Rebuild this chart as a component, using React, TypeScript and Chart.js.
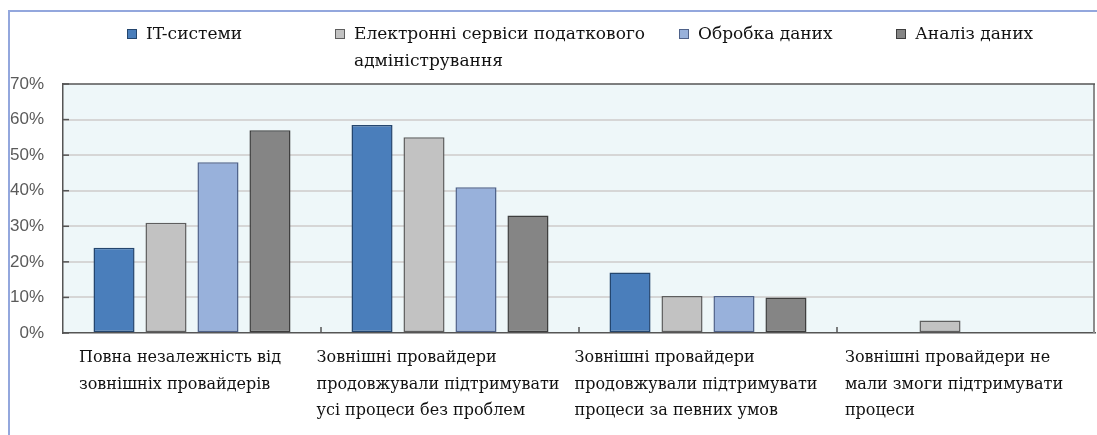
import React, { useEffect, useRef } from "react";
import { Chart, registerables } from "chart.js";

Chart.register(...registerables);

const categories: string[][] = [
  ["Повна незалежність від", "зовнішніх провайдерів"],
  ["Зовнішні провайдери", "продовжували підтримувати", "усі процеси без проблем"],
  ["Зовнішні провайдери", "продовжували підтримувати", "процеси за певних умов"],
  ["Зовнішні провайдери не", "мали змоги підтримувати", "процеси"],
];

const seriesNames: string[][] = [
  ["IT-системи"],
  ["Електронні сервіси податкового", "адміністрування"],
  ["Обробка даних"],
  ["Аналіз даних"],
];

const itSystems = [24, 58.5, 17, null];
const eServices = [31, 55, 10.4, 3.5];
const dataProcessing = [48, 41, 10.4, null];
const dataAnalysis = [57, 33, 10, null];

const yMin = 0;
const yMax = 70;
const yStep = 10;

const fills = ["#4A7EBB", "#C2C2C2", "#98B1DB", "#858585"];
const borders = ["#24466E", "#5E5E5E", "#4F628A", "#3E3E3E"];
const legendX = [127, 335, 679, 896];

const SERIF = '"DejaVu Serif", "Liberation Serif", serif';

const decorPlugin = {
  id: "decor",
  beforeDraw(chart: any) {
    const { ctx, chartArea: a, width, height } = chart;
    ctx.save();
    ctx.fillStyle = "#ffffff";
    ctx.fillRect(0, 0, width, height);
    ctx.fillStyle = "#EEF7F9";
    ctx.fillRect(a.left, a.top, a.right - a.left, a.bottom - a.top);
    ctx.restore();
  },
  afterDraw(chart: any) {
    const { ctx, chartArea: a, width, height } = chart;
    const xs = chart.scales.x;
    ctx.save();
    // right border of plot
    ctx.strokeStyle = "#8C8C8C";
    ctx.lineWidth = 2;
    ctx.beginPath();
    ctx.moveTo(a.right - 1, a.top);
    ctx.lineTo(a.right - 1, a.bottom);
    ctx.stroke();
    // top border
    ctx.strokeStyle = "#555555";
    ctx.lineWidth = 1.5;
    ctx.beginPath();
    ctx.moveTo(a.left, a.top);
    ctx.lineTo(a.right, a.top);
    ctx.stroke();
    // y ticks inward
    const ys = chart.scales.y;
    ctx.strokeStyle = "#555555";
    ctx.lineWidth = 1.5;
    for (let v = yMin; v <= yMax; v += yStep) {
      const py = ys.getPixelForValue(v);
      ctx.beginPath();
      ctx.moveTo(a.left, py);
      ctx.lineTo(a.left + 6, py);
      ctx.stroke();
    }
    // category boundary ticks inward
    for (let i = 1; i < categories.length; i++) {
      const px = (xs.getPixelForValue(i - 1) + xs.getPixelForValue(i)) / 2;
      ctx.beginPath();
      ctx.moveTo(px, a.bottom);
      ctx.lineTo(px, a.bottom - 6);
      ctx.stroke();
    }
    // outer frame
    ctx.strokeStyle = "#93A7DD";
    ctx.lineWidth = 2;
    ctx.beginPath();
    ctx.moveTo(9, height);
    ctx.lineTo(9, 11);
    ctx.lineTo(width, 11);
    ctx.stroke();

    // x labels: blocks near category centre, lines left aligned
    ctx.font = "16px " + SERIF;
    ctx.fillStyle = "#111111";
    ctx.textBaseline = "middle";
    ctx.textAlign = "left";
    categories.forEach((lines, i) => {
      const cx = xs.getPixelForValue(i);
      const w = Math.max(...lines.map((l) => ctx.measureText(l).width));
      const left = cx - w / 2 - 12;
      lines.forEach((l, j) => {
        ctx.fillText(l, left, a.bottom + 25 + j * 26.5);
      });
    });

    // legend
    ctx.font = "17px " + SERIF;
    seriesNames.forEach((lines, i) => {
      const x = legendX[i];
      ctx.fillStyle = fills[i];
      ctx.fillRect(x, 29, 10, 10);
      ctx.strokeStyle = borders[i];
      ctx.lineWidth = 1;
      ctx.strokeRect(x + 0.5, 29.5, 9, 9);
      ctx.fillStyle = "#111111";
      lines.forEach((l, j) => {
        ctx.fillText(l, x + 19, 35 + j * 26.5);
      });
    });
    ctx.restore();
  },
};

export default function App() {
  const ref = useRef<HTMLCanvasElement>(null);
  useEffect(() => {
    if (!ref.current) return;
    const series = [itSystems, eServices, dataProcessing, dataAnalysis];
    const chart = new Chart(ref.current, {
      type: "bar",
      data: {
        labels: categories.map((c) => c.join(" ")),
        datasets: series.map((d, i) => ({
          label: seriesNames[i].join(" "),
          data: d,
          backgroundColor: fills[i],
          borderColor: borders[i],
          borderWidth: 1.5,
          borderSkipped: false,
          categoryPercentage: 0.806,
          barPercentage: 0.79,
        })),
      },
      options: {
        responsive: false,
        animation: false,
        layout: { padding: { top: 84, bottom: 102, left: 0, right: 2 } },
        plugins: { legend: { display: false }, tooltip: { enabled: false } },
        scales: {
          x: {
            grid: { display: false, drawTicks: false },
            ticks: { display: false },
            border: { display: true, color: "#555555", width: 1.5 },
            afterFit: (s: any) => {
              s.height = 0;
            },
          },
          y: {
            min: yMin,
            max: yMax,
            ticks: {
              stepSize: yStep,
              callback: (v: any) => v + "%",
              padding: 19,
              color: "#5a5a5a",
              font: { family: '"Liberation Sans", Arial, sans-serif', size: 17 },
            },
            grid: {
              drawTicks: false,
              lineWidth: 2,
              color: (c: any) =>
                c.tick && (c.tick.value === yMax || c.tick.value === yMin)
                  ? "rgba(0,0,0,0)"
                  : "#D6D6D6",
            },
            border: { display: true, color: "#555555", width: 1.5 },
            afterFit: (s: any) => {
              s.width = 63;
            },
          },
        },
      },
      plugins: [decorPlugin],
    });
    return () => chart.destroy();
  }, []);
  return (
    <div style={{ position: "fixed", left: 0, top: 0, width: 1097, height: 435, background: "#fff" }}>
      <canvas ref={ref} width={1097} height={435} style={{ display: "block", width: 1097, height: 435 }} />
    </div>
  );
}
